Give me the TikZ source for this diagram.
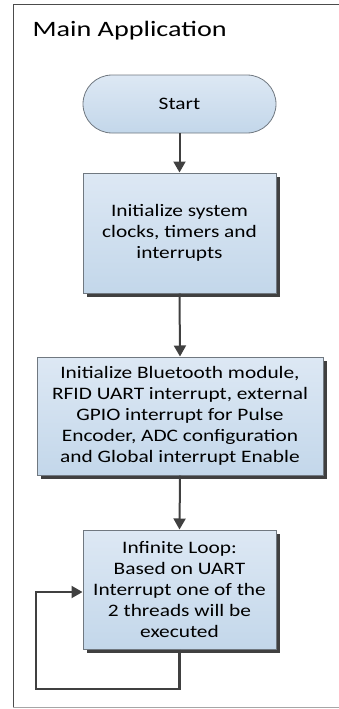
\documentclass[tikz,border=0pt]{standalone}
\usepackage{fontspec}
\setmainfont{Carlito}[FakeStretch=1.22]
\newfontfamily\titlefont{Carlito}[FakeStretch=1.28]
\usetikzlibrary{arrows.meta}
\definecolor{boxtop}{HTML}{DDE8F4}
\definecolor{boxbot}{HTML}{C3D7EA}
\definecolor{boxline}{HTML}{707880}
\definecolor{arr}{HTML}{404040}
\begin{document}
\begin{tikzpicture}[x=1pt,y=-1pt,
  procbox/.style={draw=boxline,line width=1pt,top color=boxtop,bottom color=boxbot,
     align=center,inner sep=0pt,font=\fontsize{17.5}{21}\selectfont},
  flow/.style={draw=arr,line width=2pt,-{Triangle[length=11pt,width=12pt]}},
  loopline/.style={draw=arr,line width=2.2pt}]
\useasboundingbox (0,0) rectangle (339,709);
% frame
\draw[line width=1pt,color=black!70] (339,5) -- (13,5) -- (13,707);
\draw[line width=1pt,color=black!35] (13,707) -- (339,707);
\node[anchor=base west,font=\titlefont\fontsize{22}{24}\selectfont] (title) at (29,37) {Main Application};
% start
\node[draw=boxline,line width=0.8pt,top color=boxtop,bottom color=boxbot,
      rounded corners=29pt,minimum width=193pt,minimum height=58pt,
      font=\fontsize{17.5}{21}\selectfont] (start) at (179.5,104) {Start};
% box 1
\fill[black!75] (87,177) rectangle (280,297);
\node[procbox,minimum width=193pt,minimum height=120pt] (b1) at (179.5,233) {Initialize system\\clocks, timers and\\interrupts};
% box 2
\fill[black!75] (41,361) rectangle (327,479);
\node[procbox,minimum width=286pt,minimum height=118pt] (b2) at (180,416) {Initialize Bluetooth module,\\RFID UART interrupt, external\\GPIO interrupt for Pulse\\Encoder, ADC configuration\\and Global interrupt Enable};
% box 3
\fill[black!75] (87,534) rectangle (280,653);
\node[procbox,minimum width=193pt,minimum height=119pt] (b3) at (179.5,589.5) {Infinite Loop:\\Based on UART\\Interrupt one of the\\2 threads will be\\executed};
% arrows
\draw[flow] (start.south) -- (b1.north);
\draw[flow] (b1.south) -- (b2.north);
\draw[flow] (b2.south) -- (b3.north);
\coordinate (lb) at (36,689);
\coordinate (lt) at (36,592);
\draw[loopline] (b3.south) -- (b3.south |- lb) -- (lb) -- (lt) -- ([xshift=-10pt]b3.west |- lt);
\draw[flow] (lt) -- (b3.west |- lt);
\end{tikzpicture}
\end{document}
